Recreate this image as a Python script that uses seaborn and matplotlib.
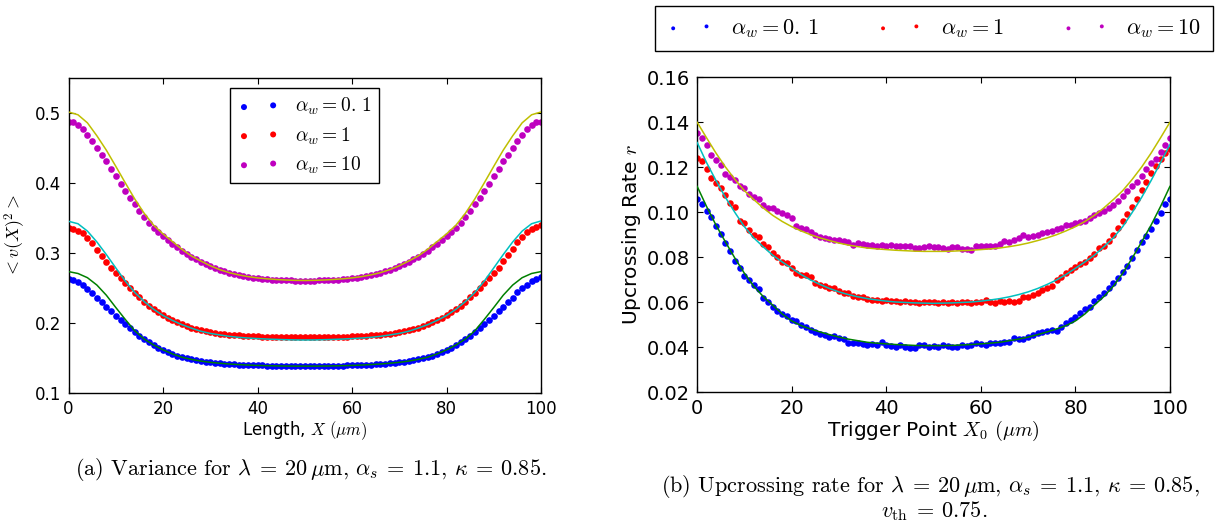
import matplotlib
matplotlib.use("Agg")
import matplotlib.pyplot as plt
import seaborn as sns

# ---------------------------------------------------------------- data
# sample positions along the cable (micrometres)
x_dots = list(range(0, 101))
x_fit = list(range(0, 101, 2))

legend_labels = [r"$\alpha_w = 0.\,1$", r"$\alpha_w = 1$", r"$\alpha_w = 10$"]

# variance <v(X)^2>, simulated points
var_dots_01 = [
    0.2625, 0.2612, 0.2585, 0.2540, 0.2490, 0.2435, 0.2365, 0.2300, 0.2235, 0.2170,
    0.2108, 0.2050, 0.1992, 0.1932, 0.1875, 0.1823, 0.1776, 0.1730, 0.1690, 0.1652,
    0.1619, 0.1590, 0.1562, 0.1537, 0.1515, 0.1500, 0.1486, 0.1473, 0.1462, 0.1451,
    0.1443, 0.1436, 0.1430, 0.1424, 0.1419, 0.1415, 0.1411, 0.1408, 0.1405, 0.1402,
    0.1400, 0.1398, 0.1396, 0.1394, 0.1393, 0.1392, 0.1391, 0.1390, 0.1390, 0.1389,
    0.1389,
    0.1389, 0.1390, 0.1390, 0.1391, 0.1392, 0.1393, 0.1394, 0.1396, 0.1398, 0.1400,
    0.1402, 0.1405, 0.1408, 0.1411, 0.1415, 0.1419, 0.1424, 0.1430, 0.1436, 0.1443,
    0.1451, 0.1462, 0.1473, 0.1486, 0.1500, 0.1515, 0.1537, 0.1562, 0.1590, 0.1619,
    0.1652, 0.1690, 0.1730, 0.1776, 0.1823, 0.1875, 0.1932, 0.1992, 0.2050, 0.2108,
    0.2170, 0.2235, 0.2300, 0.2365, 0.2440, 0.2498, 0.2550, 0.2598, 0.2630, 0.2655]

var_dots_1 = [
    0.3357, 0.3345, 0.3320, 0.3290, 0.3220, 0.3150, 0.3050, 0.2965, 0.2880, 0.2790,
    0.2723, 0.2643, 0.2571, 0.2500, 0.2430, 0.2371, 0.2309, 0.2252, 0.2204, 0.2157,
    0.2119, 0.2080, 0.2045, 0.2012, 0.1983, 0.1958, 0.1935, 0.1915, 0.1898, 0.1884,
    0.1872, 0.1861, 0.1852, 0.1844, 0.1837, 0.1831, 0.1826, 0.1822, 0.1818, 0.1815,
    0.1812, 0.1810, 0.1808, 0.1807, 0.1806, 0.1805, 0.1805, 0.1804, 0.1804, 0.1804,
    0.1803,
    0.1804, 0.1804, 0.1804, 0.1805, 0.1805, 0.1806, 0.1807, 0.1808, 0.1810, 0.1812,
    0.1815, 0.1818, 0.1822, 0.1826, 0.1831, 0.1837, 0.1844, 0.1852, 0.1861, 0.1872,
    0.1884, 0.1898, 0.1915, 0.1935, 0.1958, 0.1983, 0.2012, 0.2045, 0.2080, 0.2119,
    0.2157, 0.2204, 0.2252, 0.2309, 0.2371, 0.2430, 0.2500, 0.2571, 0.2643, 0.2723,
    0.2795, 0.2885, 0.2972, 0.3060, 0.3162, 0.3235, 0.3305, 0.3350, 0.3380, 0.3400]

var_dots_10 = [
    0.4870, 0.4866, 0.4830, 0.4770, 0.4690, 0.4595, 0.4500, 0.4404, 0.4309, 0.4200,
    0.4095, 0.3990, 0.3890, 0.3790, 0.3700, 0.3600, 0.3523, 0.3435, 0.3357, 0.3295,
    0.3238, 0.3181, 0.3128, 0.3081, 0.3033, 0.2990, 0.2952, 0.2914, 0.2881, 0.2848,
    0.2819, 0.2790, 0.2764, 0.2740, 0.2720, 0.2703, 0.2688, 0.2674, 0.2662, 0.2652,
    0.2643, 0.2635, 0.2629, 0.2624, 0.2619, 0.2615, 0.2612, 0.2610, 0.2609, 0.2608,
    0.2608,
    0.2608, 0.2609, 0.2610, 0.2612, 0.2615, 0.2619, 0.2624, 0.2629, 0.2635, 0.2643,
    0.2652, 0.2662, 0.2674, 0.2688, 0.2703, 0.2720, 0.2740, 0.2764, 0.2790, 0.2819,
    0.2848, 0.2881, 0.2914, 0.2952, 0.2990, 0.3033, 0.3081, 0.3128, 0.3181, 0.3238,
    0.3295, 0.3357, 0.3435, 0.3523, 0.3600, 0.3700, 0.3790, 0.3890, 0.3990, 0.4095,
    0.4200, 0.4309, 0.4404, 0.4500, 0.4595, 0.4690, 0.4770, 0.4830, 0.4866, 0.4875]

# variance, theoretical curves
var_fit_01 = [
    0.2737, 0.2710, 0.2650, 0.2545, 0.2400, 0.2225, 0.2055, 0.1893, 0.1775,
    0.1690, 0.1620, 0.1562, 0.1515, 0.1484, 0.1460, 0.1442, 0.1429, 0.1418,
    0.1410, 0.1403, 0.1398, 0.1394, 0.1391, 0.1389, 0.1388, 0.1388,
    0.1388, 0.1389, 0.1391, 0.1394, 0.1398, 0.1403, 0.1410,
    0.1418, 0.1429, 0.1442, 0.1460, 0.1484, 0.1515, 0.1562, 0.1620, 0.1690,
    0.1775, 0.1893, 0.2055, 0.2225, 0.2400, 0.2545, 0.2650, 0.2710, 0.2737]

var_fit_1 = [
    0.3455, 0.3420, 0.3315, 0.3160, 0.2980, 0.2790, 0.2603, 0.2440, 0.2310,
    0.2200, 0.2110, 0.2040, 0.1979, 0.1930, 0.1886, 0.1855, 0.1833, 0.1813,
    0.1799, 0.1789, 0.1781, 0.1774, 0.1769, 0.1765, 0.1762, 0.1761,
    0.1762, 0.1765, 0.1769, 0.1774, 0.1781, 0.1789, 0.1799,
    0.1813, 0.1833, 0.1855, 0.1886, 0.1930, 0.1979, 0.2040, 0.2110, 0.2200,
    0.2310, 0.2440, 0.2603, 0.2790, 0.2980, 0.3160, 0.3315, 0.3420, 0.3460]

var_fit_10 = [
    0.5015, 0.4975, 0.4860, 0.4675, 0.4470, 0.4240, 0.4005, 0.3775, 0.3570,
    0.3400, 0.3275, 0.3165, 0.3055, 0.2960, 0.2888, 0.2820, 0.2765, 0.2722,
    0.2690, 0.2665, 0.2647, 0.2634, 0.2624, 0.2617, 0.2612, 0.2610,
    0.2612, 0.2617, 0.2624, 0.2634, 0.2647, 0.2665, 0.2690,
    0.2722, 0.2765, 0.2820, 0.2888, 0.2960, 0.3055, 0.3165, 0.3275, 0.3400,
    0.3570, 0.3775, 0.4005, 0.4240, 0.4470, 0.4675, 0.4860, 0.4975, 0.5015]

# upcrossing rate r, simulated points
rate_dots_01 = [
    0.1056, 0.1036, 0.1005, 0.0976, 0.0939, 0.0901, 0.0861, 0.0825, 0.0781, 0.0752,
    0.0714, 0.0698, 0.0676, 0.0658, 0.0620, 0.0601, 0.0579, 0.0561, 0.0545, 0.0540,
    0.0522, 0.0515, 0.0500, 0.0487, 0.0476, 0.0465, 0.0460, 0.0453, 0.0446, 0.0448,
    0.0439, 0.0435, 0.0420, 0.0419, 0.0416, 0.0413, 0.0411, 0.0412, 0.0409, 0.0421,
    0.0411, 0.0404, 0.0402, 0.0409, 0.0402, 0.0397, 0.0397, 0.0409, 0.0408, 0.0402,
    0.0404,
    0.0402, 0.0409, 0.0405, 0.0402, 0.0399, 0.0409, 0.0405, 0.0411, 0.0416, 0.0413,
    0.0409, 0.0416, 0.0419, 0.0416, 0.0424, 0.0423, 0.0439, 0.0435, 0.0437, 0.0446,
    0.0453, 0.0464, 0.0468, 0.0471, 0.0476, 0.0469, 0.0490, 0.0505, 0.0520, 0.0532,
    0.0553, 0.0567, 0.0579, 0.0605, 0.0622, 0.0639, 0.0662, 0.0685, 0.0708, 0.0735,
    0.0762, 0.0795, 0.0833, 0.0868, 0.0895, 0.0925, 0.0958, 0.0995, 0.1035, 0.1056]

rate_dots_1 = [
    0.1239, 0.1227, 0.1190, 0.1150, 0.1128, 0.1105, 0.1076, 0.1039, 0.1024, 0.0962,
    0.0950, 0.0920, 0.0898, 0.0890, 0.0856, 0.0846, 0.0816, 0.0801, 0.0779, 0.0772,
    0.0750, 0.0728, 0.0720, 0.0720, 0.0712, 0.0683, 0.0676, 0.0673, 0.0661, 0.0661,
    0.0650, 0.0641, 0.0638, 0.0627, 0.0621, 0.0621, 0.0613, 0.0609, 0.0609, 0.0605,
    0.0607, 0.0603, 0.0605, 0.0601, 0.0603, 0.0598, 0.0601, 0.0596, 0.0600, 0.0598,
    0.0599,
    0.0597, 0.0601, 0.0596, 0.0598, 0.0594, 0.0598, 0.0600, 0.0597, 0.0600, 0.0599,
    0.0607, 0.0601, 0.0597, 0.0603, 0.0601, 0.0603, 0.0602, 0.0605, 0.0621, 0.0624,
    0.0629, 0.0639, 0.0653, 0.0661, 0.0671, 0.0698, 0.0712, 0.0728, 0.0742, 0.0757,
    0.0770, 0.0780, 0.0795, 0.0815, 0.0838, 0.0850, 0.0872, 0.0900, 0.0930, 0.0958,
    0.0990, 0.1022, 0.1058, 0.1098, 0.1135, 0.1172, 0.1205, 0.1235, 0.1262, 0.1280]

rate_dots_10 = [
    0.1350, 0.1328, 0.1298, 0.1253, 0.1231, 0.1209, 0.1168, 0.1157, 0.1142, 0.1116,
    0.1105, 0.1079, 0.1068, 0.1056, 0.1031, 0.1016, 0.1016, 0.1006, 0.0994, 0.0987,
    0.0975, 0.0938, 0.0928, 0.0923, 0.0912, 0.0898, 0.0890, 0.0883, 0.0879, 0.0876,
    0.0876, 0.0873, 0.0865, 0.0853, 0.0861, 0.0858, 0.0852, 0.0855, 0.0850, 0.0853,
    0.0851, 0.0852, 0.0849, 0.0850, 0.0848, 0.0851, 0.0840, 0.0842, 0.0846, 0.0847,
    0.0843,
    0.0846, 0.0840, 0.0834, 0.0845, 0.0843, 0.0836, 0.0834, 0.0832, 0.0849, 0.0848,
    0.0849, 0.0850, 0.0851, 0.0856, 0.0871, 0.0865, 0.0876, 0.0883, 0.0900, 0.0890,
    0.0893, 0.0897, 0.0905, 0.0912, 0.0915, 0.0923, 0.0927, 0.0942, 0.0942, 0.0950,
    0.0957, 0.0962, 0.0975, 0.0987, 0.0995, 0.1005, 0.1020, 0.1031, 0.1050, 0.1070,
    0.1092, 0.1115, 0.1135, 0.1160, 0.1190, 0.1216, 0.1235, 0.1265, 0.1300, 0.1328]

# upcrossing rate, theoretical curves
rate_fit_01 = [
    0.1115, 0.1025, 0.0942, 0.0867, 0.0795, 0.0728, 0.0670, 0.0624, 0.0586,
    0.0547, 0.0516, 0.0495, 0.0480, 0.0467, 0.0455, 0.0444, 0.0435, 0.0428,
    0.0421, 0.0417, 0.0414, 0.0411, 0.0409, 0.0407, 0.0406, 0.0406,
    0.0406, 0.0407, 0.0409, 0.0411, 0.0414, 0.0417, 0.0421,
    0.0428, 0.0435, 0.0444, 0.0455, 0.0467, 0.0480, 0.0495, 0.0516, 0.0547,
    0.0586, 0.0624, 0.0670, 0.0728, 0.0795, 0.0867, 0.0942, 0.1025, 0.1115]

rate_fit_1 = [
    0.1310, 0.1220, 0.1140, 0.1065, 0.0998, 0.0935, 0.0885, 0.0845, 0.0808,
    0.0778, 0.0750, 0.0722, 0.0698, 0.0678, 0.0660, 0.0645, 0.0633, 0.0623,
    0.0615, 0.0609, 0.0604, 0.0600, 0.0598, 0.0596, 0.0595, 0.0594,
    0.0595, 0.0596, 0.0598, 0.0600, 0.0604, 0.0609, 0.0615,
    0.0623, 0.0633, 0.0645, 0.0660, 0.0678, 0.0698, 0.0722, 0.0750, 0.0778,
    0.0808, 0.0845, 0.0885, 0.0935, 0.0998, 0.1065, 0.1140, 0.1220, 0.1300]

rate_fit_10 = [
    0.1400, 0.1330, 0.1262, 0.1200, 0.1145, 0.1095, 0.1055, 0.1018, 0.0985,
    0.0958, 0.0935, 0.0916, 0.0899, 0.0885, 0.0873, 0.0862, 0.0853, 0.0846,
    0.0840, 0.0836, 0.0833, 0.0830, 0.0828, 0.0826, 0.0825, 0.0825,
    0.0825, 0.0826, 0.0828, 0.0830, 0.0833, 0.0836, 0.0840,
    0.0846, 0.0853, 0.0862, 0.0873, 0.0885, 0.0899, 0.0916, 0.0935, 0.0958,
    0.0985, 0.1018, 0.1055, 0.1095, 0.1145, 0.1200, 0.1262, 0.1330, 0.1400]

x_ticks = [0, 20, 40, 60, 80, 100]
var_ticks = [0.1, 0.2, 0.3, 0.4, 0.5]
rate_ticks = [0.02, 0.04, 0.06, 0.08, 0.10, 0.12, 0.14, 0.16]

# ---------------------------------------------------------------- style
DOT_COLORS = ["#0000ff", "#ff0000", "#bf00bf"]
FIT_COLORS = ["#008000", "#00bfbf", "#bfbf00"]

sns.set_style("ticks")
plt.rcParams.update({
    "font.family": ["DejaVu Sans"],
    "mathtext.fontset": "cm",
    "xtick.direction": "in",
    "ytick.direction": "in",
    "xtick.top": True,
    "ytick.right": True,
    "xtick.major.size": 4,
    "ytick.major.size": 4,
    "xtick.major.width": 0.8,
    "ytick.major.width": 0.8,
    "axes.edgecolor": "black",
    "axes.linewidth": 1.0,
    "xtick.color": "black",
    "ytick.color": "black",
    "text.color": "black",
    "axes.labelcolor": "black",
})

fig = plt.figure(figsize=(12.15, 5.21), dpi=100)
ax1 = fig.add_axes([0.0564, 0.2451, 0.3889, 0.6052])
ax2 = fig.add_axes([0.5737, 0.2476, 0.3893, 0.6046])


def draw_panel(ax, dots, fits, xf, size):
    for ys, col, lab in zip(dots, DOT_COLORS, legend_labels):
        sns.scatterplot(x=x_dots, y=ys, color=col, s=size, linewidth=0,
                        label=lab, ax=ax, zorder=2)
    for ys, col in zip(fits, FIT_COLORS):
        sns.lineplot(x=xf, y=ys, color=col, linewidth=1.1, ax=ax, zorder=3)
    return ax.collections[:3]


h1 = draw_panel(ax1, [var_dots_01, var_dots_1, var_dots_10],
                [var_fit_01, var_fit_1, var_fit_10], x_fit, 23)
h2 = draw_panel(ax2, [rate_dots_01, rate_dots_1, rate_dots_10],
                [rate_fit_01, rate_fit_1, rate_fit_10], x_fit, 22)

# left panel: variance
ax1.set_xlim(0, 100)
ax1.set_ylim(0.1, 0.55)
ax1.set_xticks(x_ticks)
ax1.set_yticks(var_ticks)
ax1.set_yticklabels([f"{v:.1f}" for v in var_ticks])
ax1.tick_params(labelsize=12, pad=5)
ax1.set_xlabel(r"Length, $X$ $(\mu m)$", fontsize=12, labelpad=1)
ax1.set_ylabel(r"$<v(X)^2>$", fontsize=13, labelpad=5)
leg1 = ax1.legend(handles=h1, labels=legend_labels, loc="upper center",
                  bbox_to_anchor=(0.5, 0.967), borderaxespad=0,
                  scatterpoints=2, markerscale=0.9, fontsize=14, fancybox=False,
                  framealpha=1, edgecolor="black", handlelength=2.1,
                  handletextpad=0.8, labelspacing=0.4, borderpad=0.4)
leg1.get_frame().set_linewidth(1.0)

# right panel: upcrossing rate
ax2.set_xlim(0, 100)
ax2.set_ylim(0.02, 0.16)
ax2.set_xticks(x_ticks)
ax2.set_yticks(rate_ticks)
ax2.set_yticklabels([f"{v:.2f}" for v in rate_ticks])
ax2.tick_params(labelsize=14, pad=5)
ax2.set_xlabel(r"Trigger Point $X_0$ $(\mu m)$", fontsize=14.5, labelpad=1)
ax2.set_ylabel(r"Upcrossing Rate $r$", fontsize=14.5, labelpad=3)
leg2 = ax2.legend(handles=h2, labels=legend_labels, loc="lower center",
                  bbox_to_anchor=(0.7687, 0.902), bbox_transform=fig.transFigure,
                  borderaxespad=0, ncol=3, scatterpoints=2, markerscale=0.6,
                  fontsize=16, fancybox=False, framealpha=1, edgecolor="black",
                  handlelength=2.1, handletextpad=0.8, columnspacing=2.6,
                  borderpad=0.5)
leg2.get_frame().set_linewidth(1.0)

# captions
cap = dict(fontfamily="cmr10", fontsize=16, ha="center", va="center")
fig.text(0.256, 0.098,
         r"(a) Variance for $\lambda\:=\:20\,\mathrm{\mu m}$, "
         r"$\alpha_s\:=\:1.1$, $\kappa\:=\:0.85$.",
         **cap)
fig.text(0.7654, 0.067,
         r"(b) Upcrossing rate for $\lambda\:=\:20\,\mathrm{\mu m}$, "
         r"$\alpha_s\:=\:1.1$, $\kappa\:=\:0.85$,",
         **cap)
fig.text(0.769, 0.019, r"$v_{\mathrm{th}}\:=\:0.75$.", **cap)

fig.savefig("out.png", dpi=100)
